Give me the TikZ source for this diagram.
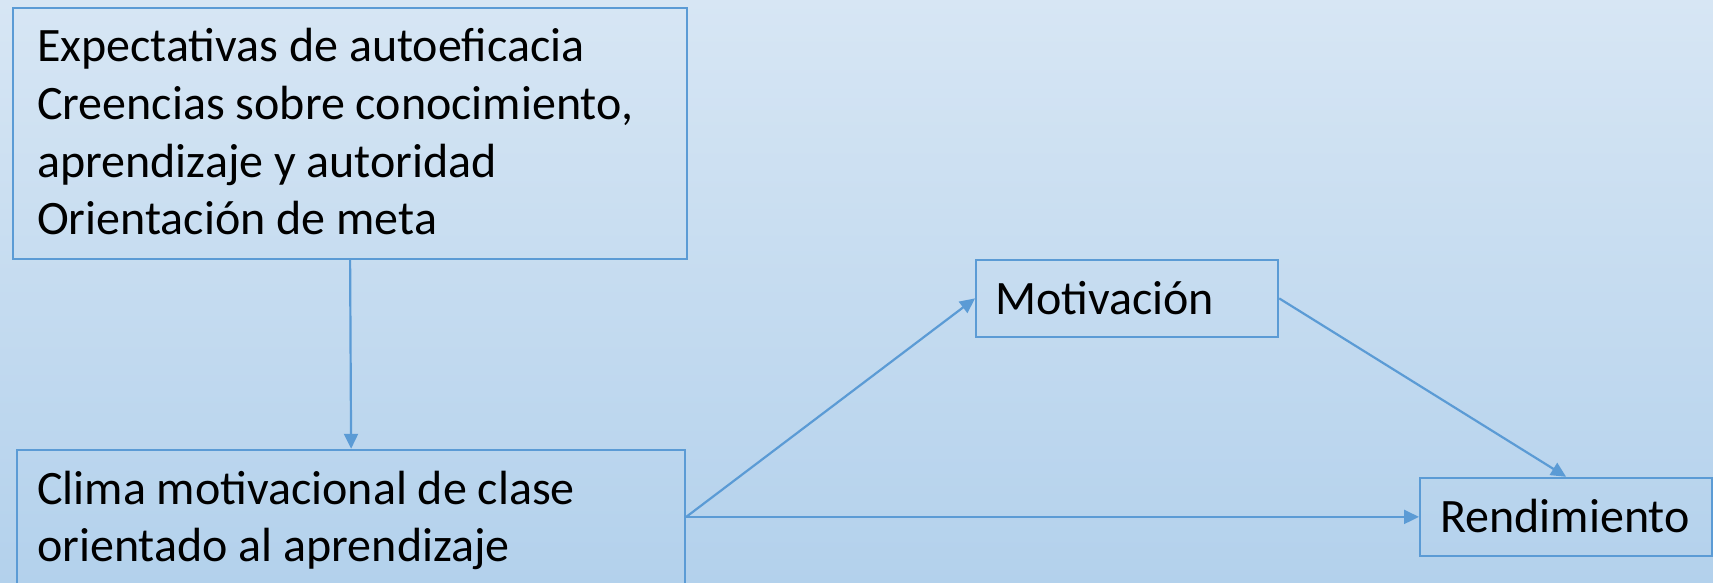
\documentclass[tikz,border=0pt]{standalone}
\usepackage{fontspec}
\setmainfont{Carlito}
\usetikzlibrary{arrows.meta}
\definecolor{bgtop}{HTML}{D7E6F4}
\definecolor{bgbot}{HTML}{B3D1EC}
\definecolor{lineblue}{HTML}{5B9BD5}
\tikzset{
  boxn/.style={draw=lineblue, line width=2.2pt, rectangle, inner sep=0pt, anchor=south west},
  txt/.style={anchor=base west, inner sep=0pt, align=left, font=\fontsize{48}{57.7}\selectfont},
  conn/.style={draw=lineblue, line width=2.2pt, -{Triangle[length=15pt,width=14pt]}}
}
\begin{document}
\begin{tikzpicture}[x=1pt,y=1pt]
\useasboundingbox (0,0) rectangle (1713,583);
\clip (0,0) rectangle (1713,583);
\shade[top color=bgtop, bottom color=bgbot] (0,0) rectangle (1713,583);
\node[boxn, minimum width=674pt, minimum height=251pt] (b1) at (12,323) {};
\node[boxn, minimum width=668pt, minimum height=134pt] (b2) at (16,-2) {};
\node[boxn, minimum width=302pt, minimum height=77pt] (mot) at (975,245) {};
\node[boxn, minimum width=292pt, minimum height=78pt] (rend) at (1419,26) {};
\node[txt] (t1) at (37,348) {Expectativas de autoeficacia\\Creencias sobre conocimiento,\\aprendizaje y autoridad\\Orientación de meta};
\node[txt] (t2) at (37,21) {Clima motivacional de clase\\orientado al aprendizaje};
\node[txt] (t3) at (995,268) {Motivación};
\node[txt] (t4) at (1440,50) {Rendimiento};
\draw[conn] (b1.south) -- (b2.north);
\draw[conn] (b2.east) -- (mot.west);
\draw[conn] (b2.east) -- (rend.west);
\draw[conn] (mot.east) -- (rend.north);
\end{tikzpicture}
\end{document}
